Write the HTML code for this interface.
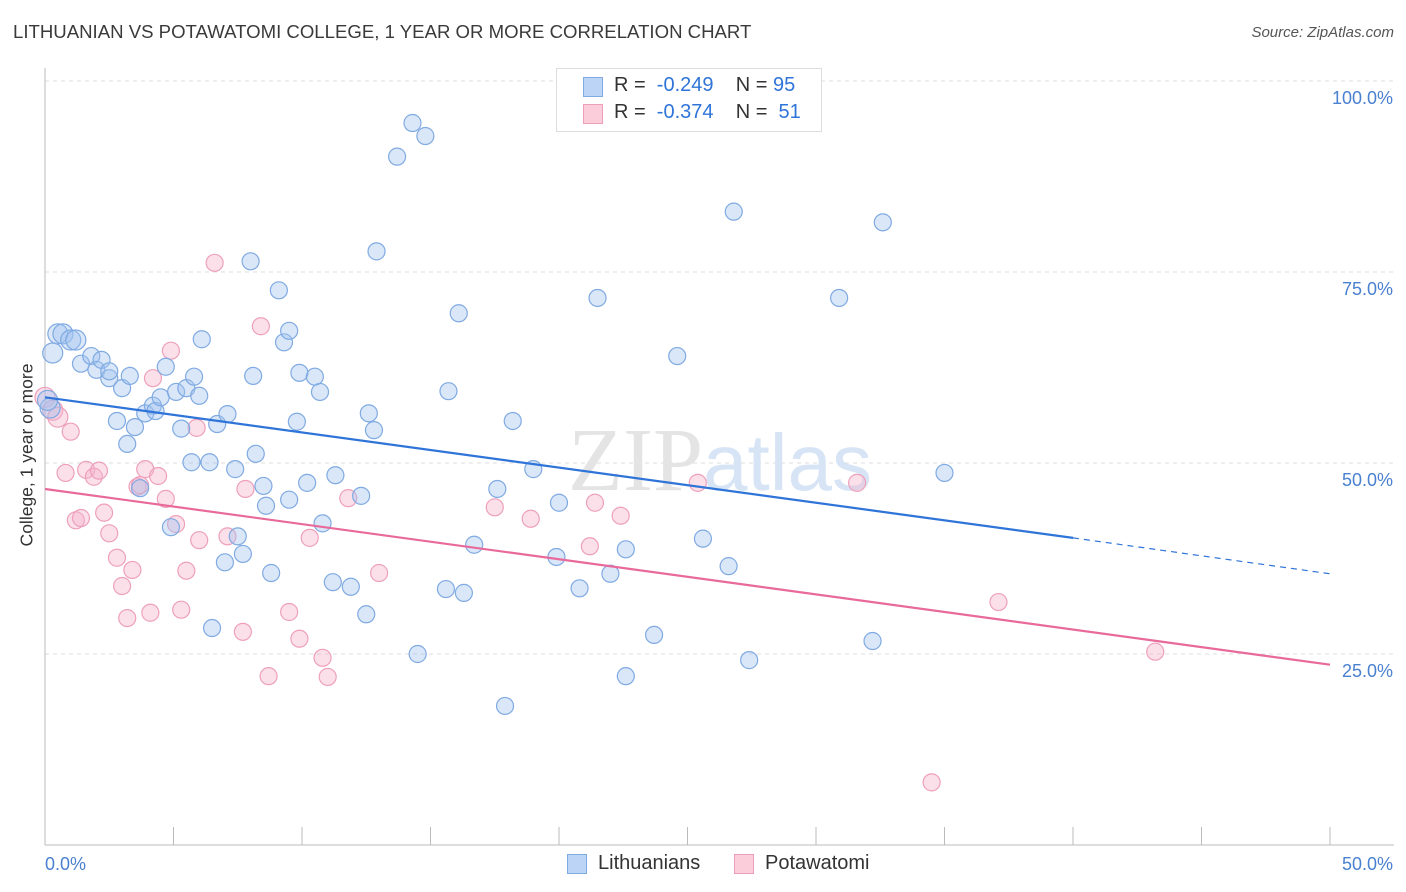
<!DOCTYPE html>
<html><head><meta charset="utf-8"><style>
body{margin:0;background:#fff;font-family:"Liberation Sans",sans-serif;}
#wrap{position:relative;width:1406px;height:892px;overflow:hidden;}
.t{position:absolute;white-space:nowrap;}
</style></head><body>
<div id="wrap">
<div class="t" style="left:13px;top:21px;font-size:18.6px;color:#3a3a3a;">LITHUANIAN VS POTAWATOMI COLLEGE, 1 YEAR OR MORE CORRELATION CHART</div>
<div class="t" style="right:12px;top:24px;font-size:15px;color:#555;font-style:italic;">Source: ZipAtlas.com</div>
<svg id="svg" width="1406" height="892" style="position:absolute;left:0;top:0"></svg>
</div>
<script>
const xTicksPct=[0,5,10,15,20,25,30,35,40,45,50];
const yTicksPct=[25,50,75,100];
const blueX=[0.5,0.7,1.0,1.2,0.3,1.4,1.8,2.0,2.2,2.5,2.5,3.0,3.3,2.8,3.2,3.5,3.7,3.9,4.2,4.3,4.5,4.7,4.9,5.1,5.3,5.5,5.7,5.8,6.0,6.1,6.4,6.5,6.7,7.0,7.1,7.4,7.5,7.7,8.0,8.1,8.2,8.5,8.6,8.8,9.1,9.3,9.5,9.5,9.8,9.9,10.2,10.5,10.7,10.8,11.2,11.3,11.9,12.3,12.5,12.6,12.8,12.9,13.7,14.3,14.8,14.5,15.6,15.7,16.1,16.3,16.7,17.6,17.9,18.2,19.0,19.9,20.0,20.8,21.5,22.0,22.6,22.6,23.7,24.6,25.6,26.6,26.8,27.4,30.9,32.2,32.6,35.0,0.2,0.1];
const blueY=[66.9,66.9,66.1,66.1,64.4,63.0,64.0,62.2,63.5,61.1,62.0,59.8,61.4,55.5,52.5,54.7,46.7,56.5,57.5,56.8,58.6,62.6,41.6,59.3,54.5,59.8,50.1,61.3,58.8,66.2,50.1,28.4,55.1,37.0,56.4,49.2,40.4,38.1,76.4,61.4,51.2,47.0,44.4,35.6,72.6,65.8,45.2,67.3,55.4,61.8,47.4,61.3,59.3,42.1,34.4,48.4,33.8,45.7,30.2,56.5,54.3,77.7,90.1,94.5,92.8,25.0,33.5,59.4,69.6,33.0,39.3,46.6,18.2,55.5,49.2,37.7,44.8,33.6,71.6,35.5,38.7,22.1,27.5,64.0,40.1,36.5,82.9,24.2,71.6,26.7,81.5,48.7,57.2,58.2];
const pinkX=[0.0,0.3,0.5,0.8,1.0,1.2,1.4,1.6,1.9,2.1,2.3,2.5,2.8,3.0,3.2,3.4,3.6,3.7,3.9,4.1,4.2,4.4,4.7,4.9,5.1,5.3,5.5,5.9,6.0,6.6,7.1,7.7,7.8,8.4,8.7,9.5,9.9,10.3,10.8,11.0,11.8,13.0,17.5,18.9,21.2,21.4,22.4,25.4,31.6,34.5,37.1,43.2];
const pinkY=[58.6,56.9,56.0,48.7,54.1,42.5,42.8,49.1,48.2,49.0,43.5,40.8,37.6,33.9,29.7,36.0,46.9,47.1,49.2,30.4,61.1,48.3,45.3,64.7,42.0,30.8,35.9,54.6,39.9,76.2,40.4,27.9,46.6,67.9,22.1,30.5,27.0,40.2,24.5,22.0,45.4,35.6,44.2,42.7,39.1,44.8,43.1,47.4,47.4,8.2,31.8,25.3];
const blueTrend=[58.6,40.2,35.5]; // at x=0, x=40, x=50
const pinkTrend=[46.6,23.6]; // at x=0, x=50
const X=v=>45+v*25.7, Y=v=>845-v*7.64;
const NS="http://www.w3.org/2000/svg", svg=document.getElementById('svg');
function mk(t,a){const e=document.createElementNS(NS,t);for(const k in a)e.setAttribute(k,a[k]);svg.appendChild(e);return e;}
yTicksPct.forEach(v=>{const l=mk('line',{x1:45,x2:1394,y1:Y(v),y2:Y(v),stroke:'#ddd','stroke-dasharray':'4,4'});


const t=mk('text',{x:1393,y:Y(v)+23,'text-anchor':'end','font-size':18,fill:'#4a80d0','font-family':'Liberation Sans'});t.textContent=v.toFixed(1)+'%';

});
const ax=mk('line',{x1:45,x2:1394,y1:845,y2:845,stroke:'#bbb'});


const ay=mk('line',{x1:45,x2:45,y1:68,y2:845,stroke:'#bbb'});


xTicksPct.forEach(v=>{const l=mk('line',{x1:X(v),x2:X(v),y1:827,y2:845,stroke:'#bbb'});

});
[[0,'start',45],[50,'end',1393]].forEach(([v,a,x])=>{const t=mk('text',{x:x,y:870,'text-anchor':a,'font-size':18,fill:'#4a80d0','font-family':'Liberation Sans'});t.textContent=v.toFixed(1)+'%';

});
const wm=mk('text',{x:720,y:490,'text-anchor':'middle','font-size':90,fill:'#e4e4e4','font-family':'Liberation Serif'});
wm.innerHTML='ZIP<tspan fill="#d6e4f5" font-family="Liberation Sans" font-size="80">atlas</tspan>';


pinkX.forEach((x,i)=>{const c=mk('circle',{cx:X(x),cy:Y(pinkY[i]),r:i<3?10:8.5,fill:'rgba(246,178,202,0.4)',stroke:'#eea0bb','stroke-width':1.2});

});
blueX.forEach((x,i)=>{const c=mk('circle',{cx:X(x),cy:Y(blueY[i]),r:i<5||i>=92?10:8.5,fill:'rgba(160,196,240,0.4)',stroke:'#80aae2','stroke-width':1.2});

});
let l=mk('line',{x1:X(0),y1:Y(blueTrend[0]),x2:X(40),y2:Y(blueTrend[1]),stroke:'#2f74d8','stroke-width':2.2});


l=mk('line',{x1:X(40),y1:Y(blueTrend[1]),x2:X(50),y2:Y(blueTrend[2]),stroke:'#2f74d8','stroke-width':1.2,'stroke-dasharray':'6,5'});


l=mk('line',{x1:X(0),y1:Y(pinkTrend[0]),x2:X(50),y2:Y(pinkTrend[1]),stroke:'#e8699a','stroke-width':2.2});


</script>
<div class="t" style="left:27px;top:455px;font-size:17.5px;color:#333;transform:translate(-50%,-50%) rotate(-90deg);">College, 1 year or more</div>
<div style="position:absolute;left:556px;top:68px;width:264px;height:62px;border:1px solid #ddd;background:#fff;font-size:20px;color:#333;">
 <div style="position:absolute;left:26px;top:8px;width:18px;height:18px;background:#bcd4f5;border:1px solid #80aae2;"></div>
 <div class="t" style="left:57px;top:5px;">R = &nbsp;<span style="color:#2f74d8">-0.249</span> &nbsp;&nbsp;&nbsp;N = <span style="color:#2f74d8">95</span></div>
 <div style="position:absolute;left:26px;top:35px;width:18px;height:18px;background:#fbcdda;border:1px solid #eea0bb;"></div>
 <div class="t" style="left:57px;top:32px;">R = &nbsp;<span style="color:#2f74d8">-0.374</span> &nbsp;&nbsp;&nbsp;N = &nbsp;<span style="color:#2f74d8">51</span></div>
</div>
<div style="position:absolute;left:567px;top:853px;font-size:20px;color:#333;">
 <div style="position:absolute;left:0;top:1px;width:18px;height:18px;background:#bcd4f5;border:1px solid #80aae2;"></div>
 <div class="t" style="left:31px;top:-1px;">Lithuanians</div></div>
<div style="position:absolute;left:734px;top:853px;font-size:20px;color:#333;">
 <div style="position:absolute;left:0;top:1px;width:18px;height:18px;background:#fbcdda;border:1px solid #eea0bb;"></div>
 <div class="t" style="left:31px;top:-1px;">Potawatomi</div></div>
</body></html>
